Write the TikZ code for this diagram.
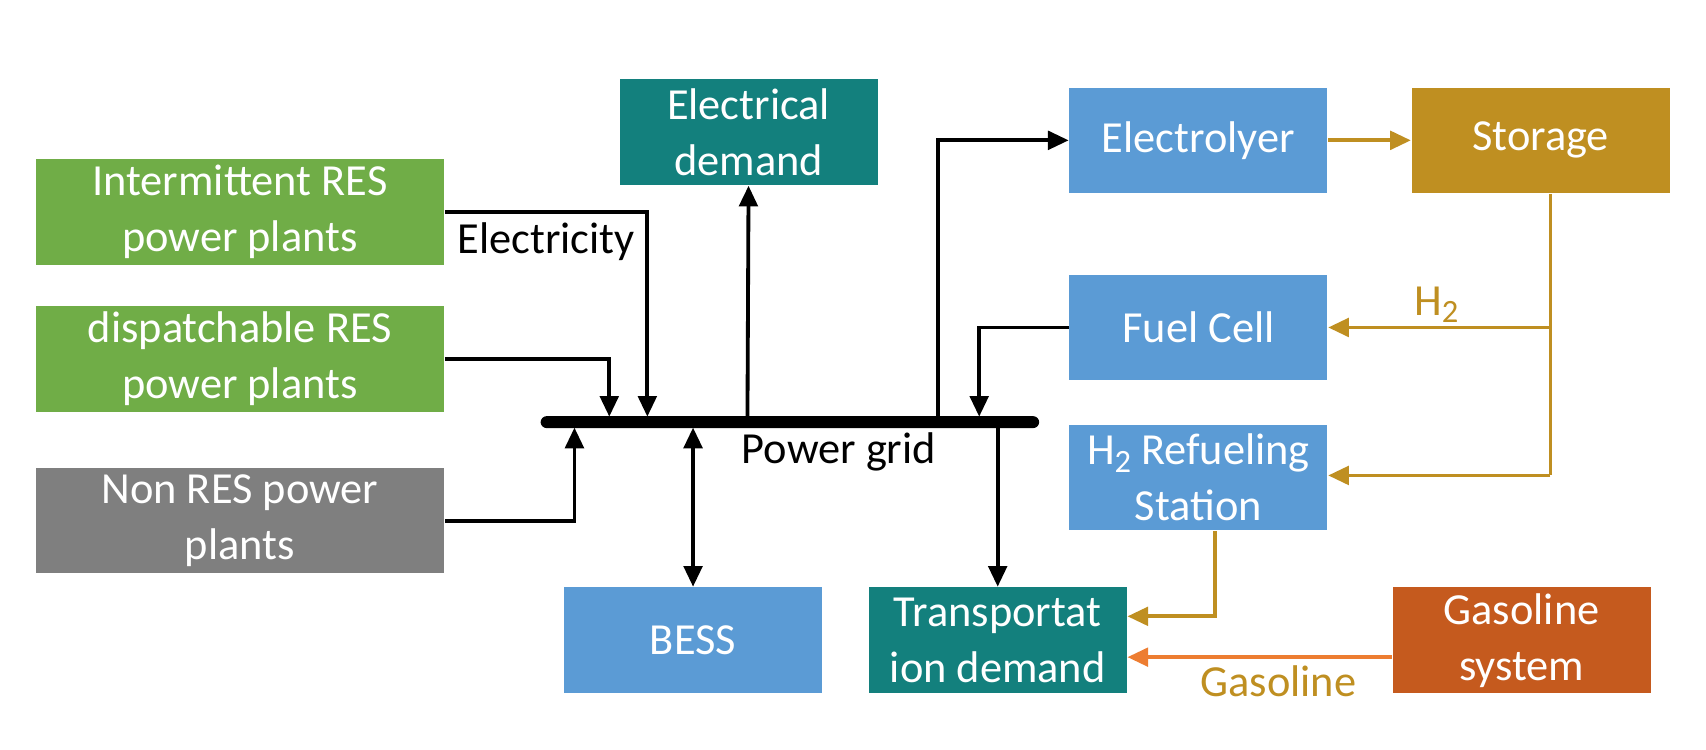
\documentclass[tikz,border=0pt]{standalone}
\usepackage{fontspec}
\setmainfont{Carlito}
\usetikzlibrary{arrows.meta,calc}
\definecolor{cgreen}{HTML}{70AD47}
\definecolor{cgray}{HTML}{7F7F7F}
\definecolor{cteal}{HTML}{13807D}
\definecolor{cblue}{HTML}{5B9BD5}
\definecolor{cgold}{HTML}{BF8F21}
\definecolor{cgasbox}{HTML}{C55A1E}
\definecolor{corange}{HTML}{ED7D31}
\newcommand\subtwo{\raisebox{-0.35ex}{\fontsize{8.5}{8.5}\selectfont 2}}
\begin{document}
\begin{tikzpicture}[x=0.01cm,y=-0.01cm,
  box/.style={rectangle,inner sep=0pt,text=white,align=center,
    font=\fontsize{11.6}{14.6}\selectfont,minimum width=2.37cm,minimum height=0.97cm},
  widebox/.style={box,minimum width=3.75cm},
  tip/.style={-{Triangle[length=0.19cm,width=0.17cm]}},
  blk/.style={draw=black,line width=1pt,tip},
  gld/.style={draw=cgold,line width=1pt,tip},
  org/.style={draw=corange,line width=1pt,tip},
  lbl/.style={font=\fontsize{11.6}{14.6}\selectfont,inner sep=0pt}]
\useasboundingbox[fill=white] (0,0) rectangle (1568,689);

% boxes
\node[widebox,fill=cgreen] (int) at (220.5,195) {Intermittent RES\\power plants};
\node[widebox,fill=cgreen] (disp) at (220.5,330) {dispatchable RES\\power plants};
\node[widebox,fill=cgray] (nonres) at (220.5,478.5) {Non RES power\\plants};
\node[box,fill=cteal] (eldem) at (688,121.5) {Electrical\\demand};
\node[box,fill=cblue] (elec) at (1101.5,129) {Electrolyer};
\node[box,fill=cgold] (stor) at (1416,129) {Storage};
\node[box,fill=cblue] (fuel) at (1101.5,301) {Fuel Cell};
\node[box,fill=cblue] (h2ref) at (1101.5,439) {H\subtwo{} Refueling\\Station};
\node[box,fill=cblue] (bess) at (637,588.5) {BESS};
\node[box,fill=cteal] (trans) at (917,588.5) {Transportat\\ion demand};
\node[box,fill=cgasbox] (gas) at (1398.5,588.5) {Gasoline\\system};

% power grid bar
\node[fill=black,rounded corners=1.6pt,minimum width=4.58cm,minimum height=0.11cm,inner sep=0pt] (bar) at (726,388) {};
\node[lbl] (pglbl) at (771,415) {Power grid};
\node[lbl,anchor=west] (eltxt) at (420,222) {Electricity};

% bar connection points
\coordinate (t1) at (595,383);
\coordinate (t2) at (560,383);
\coordinate (t3) at (528,393);
\coordinate (t4) at (687,383);
\coordinate (t5) at (637,393);
\coordinate (t6) at (862,383);
\coordinate (t7) at (900,383);
\coordinate (t8) at (917,393);

% black connectors
\draw[blk] (int.east) -| (t1);
\draw[blk] (disp.east) -| (t2);
\draw[blk] (nonres.east) -| (t3);
\draw[blk] (t4) -- (eldem.south);
\draw[draw=black,line width=1pt,{Triangle[length=0.19cm,width=0.17cm]}-{Triangle[length=0.19cm,width=0.17cm]}] (t5) -- (bess.north);
\draw[blk] (t6) |- (elec.west);
\draw[blk] (fuel.west) -| (t7);
\draw[blk] (t8) -- (trans.north);

% hydrogen connectors
\coordinate (sj) at (1425,301);
\coordinate (sk) at (1425,437);
\draw[gld] (elec.east) -- (stor.west);
\draw[draw=cgold,line width=1pt] (stor.south -| sj) -- (sk);
\draw[gld] (sj) -- (fuel.east);
\draw[gld] (sk) -- (sk -| h2ref.east);
\node[lbl,text=cgold] (h2lbl) at (1320,280) {H\subtwo};
\draw[gld] ([xshift=0.155cm]h2ref.south) |- ([yshift=0.22cm]trans.east);

% gasoline
\draw[org] ([yshift=-0.155cm]gas.west) -- ([yshift=-0.155cm]trans.east);
\node[lbl,text=cgold] (gaslbl) at (1175,626) {Gasoline};
\end{tikzpicture}
\end{document}
